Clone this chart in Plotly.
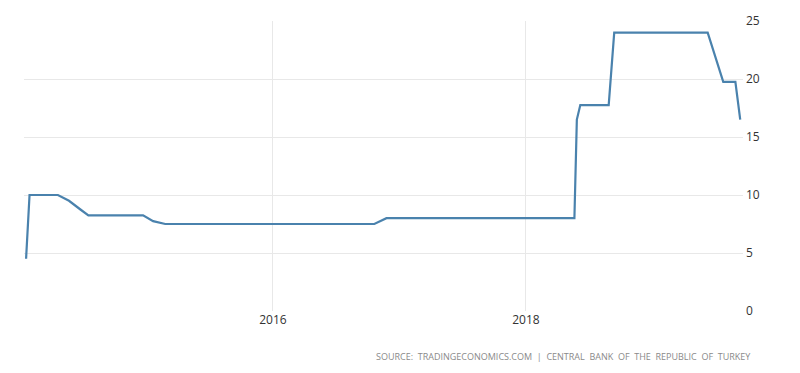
import plotly.graph_objects as go

dates = ["2014-01-18", "2014-01-28", "2014-04-20", "2014-05-22", "2014-06-24",
         "2014-07-17", "2014-12-22", "2015-01-20", "2015-02-24", "2016-10-20",
         "2016-11-24", "2018-05-21", "2018-05-28", "2018-06-07", "2018-08-28",
         "2018-09-13", "2019-06-10", "2019-07-25", "2019-08-29", "2019-09-12"]
rates = [4.5, 10, 10, 9.5, 8.75, 8.25, 8.25, 7.75, 7.5, 7.5,
         8, 8, 16.5, 17.75, 17.75, 24, 24, 19.75, 19.75, 16.5]
y_ticks = [0, 5, 10, 15, 20, 25]
source_text = "SOURCE:  TRADINGECONOMICS.COM  |  CENTRAL  BANK  OF  THE  REPUBLIC  OF  TURKEY"

fig = go.Figure()
fig.add_trace(go.Scatter(x=dates, y=rates, mode="lines",
                         line=dict(color="#4a82ad", width=2.2),
                         hoverinfo="x+y"))

fig.update_layout(
    width=800, height=373,
    margin=dict(l=24, r=57, t=21, b=62),
    paper_bgcolor="white", plot_bgcolor="white",
    showlegend=False,
    font=dict(family="Open Sans, sans-serif", size=12, color="#333333"),
    xaxis=dict(
        type="date",
        range=["2014-01-12", "2019-09-20"],
        tick0="2014-01-01", dtick="M24", tickformat="%Y",
        showgrid=True, gridcolor="#e8e8e8", gridwidth=1,
        zeroline=False, showline=False, ticks="",
        tickfont=dict(size=12, color="#333333"),
    ),
    yaxis=dict(
        side="right", range=[0, 25], tickvals=y_ticks,
        showgrid=True, gridcolor="#e8e8e8", gridwidth=1,
        zeroline=False, showline=False, ticks="",
        tickfont=dict(size=12, color="#333333"),
        ticklabelstandoff=2,
    ),
    annotations=[dict(
        text=source_text, xref="paper", yref="paper",
        x=1.014, y=-0.128, xanchor="right", yanchor="top",
        showarrow=False,
        font=dict(family="Open Sans, sans-serif", size=9, color="#8a8a8a"),
    )],
)

fig.write_html("out.html")
